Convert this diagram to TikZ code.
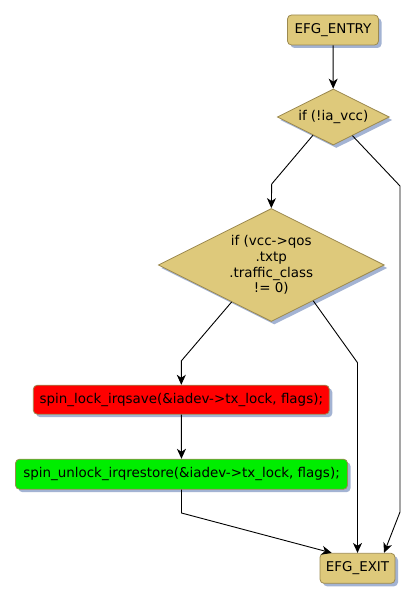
\documentclass[tikz,border=0pt]{standalone}
\usepackage{fontspec}
\setmainfont{DejaVu Sans}
\usetikzlibrary{shapes.geometric,shadows,arrows.meta,calc}
\definecolor{tanf}{HTML}{DEC97B}
\definecolor{edgec}{HTML}{9C8A50}
\definecolor{shad}{HTML}{A3B3D3}
\definecolor{redf}{HTML}{FF0000}
\definecolor{greenf}{HTML}{00EE00}
\begin{document}
\begin{tikzpicture}[x=1bp,y=-1bp,
  shadowed/.style={drop shadow={shadow xshift=3bp,shadow yshift=-3bp,fill=shad,opacity=1}},
  box/.style={rectangle,rounded corners=4bp,draw=edgec,line width=0.8bp,inner sep=0pt,
    font=\fontsize{13.5}{15.7}\selectfont,shadowed},
  dec/.style={diamond,aspect=2,draw=edgec,fill=tanf,line width=0.8bp,inner sep=0pt,align=center,
    font=\fontsize{13.5}{15.7}\selectfont,shadowed},
  arr/.style={-{Stealth[length=10bp,width=9bp,inset=3bp]},line width=0.9bp},
]
\useasboundingbox (0,0) rectangle (416,602);

\node[box,fill=tanf,minimum width=91bp,minimum height=30bp] (entry) at (333,30) {EFG\_ENTRY};
\node[dec,minimum width=112bp,minimum height=56bp] (d1) at (333.3,117) {if (!ia\_vcc)};
\node[dec,minimum width=226bp,minimum height=113bp] (d2) at (271.3,265) {if (vcc->qos\\.txtp\\.traffic\_class\\!= 0)};
\node[box,fill=redf,minimum width=296bp,minimum height=29bp] (lock) at (181.3,399.7) {spin\_lock\_irqsave(\&iadev->tx\_lock, flags);};
\node[box,fill=greenf,minimum width=332bp,minimum height=30bp] (unlock) at (181.5,474.2) {spin\_unlock\_irqrestore(\&iadev->tx\_lock, flags);};
\node[box,fill=tanf,minimum width=75bp,minimum height=30bp] (exit) at (357.5,568.3) {EFG\_EXIT};

\coordinate (b1) at (271.7,184);
\coordinate (b2) at (400,186);
\coordinate (b3) at (400,512);
\coordinate (b4) at (181.5,360.7);
\coordinate (b5) at (357.5,362.7);
\coordinate (b6) at (181.5,513);

\draw[arr] (entry) -- (d1);
\draw[arr] ($(d1.west)!0.64!(d1.south)$) -- (b1) -- (d2.north);
\draw[arr] ($(d1.south)!0.34!(d1.east)$) -- (b2) -- (b3) -- ($(exit.north west)!0.85!(exit.north east)$);
\draw[arr] ($(d2.west)!0.65!(d2.south)$) -- (b4) -- (lock.north |- b4) -- (lock.north);
\draw[arr] ($(d2.south)!0.37!(d2.east)$) -- (b5) -- (exit.north);
\draw[arr] (lock) -- (unlock);
\draw[arr] (unlock.south) -- (b6) -- ($(exit.north west)!0.16!(exit.north east)$);
\end{tikzpicture}
\end{document}
